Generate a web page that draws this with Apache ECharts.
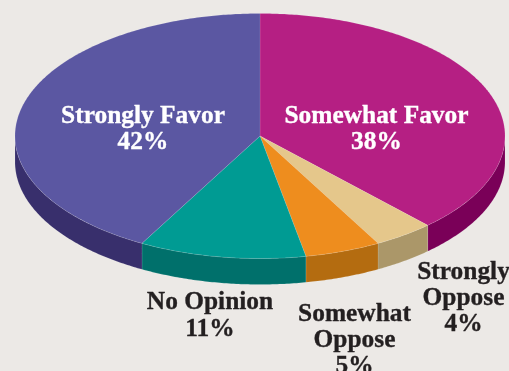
<!DOCTYPE html>
<html>
<head>
<meta charset="utf-8">
<style>html,body{margin:0;padding:0;background:#ece9e6;overflow:hidden}#chart{width:509px;height:371px}</style>
<script src="https://cdn.jsdelivr.net/npm/echarts@6/dist/echarts.min.js"></script>
</head>
<body>
<div id="chart"></div>
<script>
// Survey responses, clockwise from twelve o'clock
const categories = ['Somewhat Favor', 'Strongly Oppose', 'Somewhat Oppose', 'No Opinion', 'Strongly Favor'];
const shares = [38, 4, 5, 11, 42];
const topColors = ['#b51f83', '#e5c78b', '#ee8d1e', '#009b93', '#5b57a2'];
const sideColors = ['#7a0058', '#ab9769', '#b46c10', '#00706b', '#382f6c'];

// Tilted disc geometry
const disc = { cx: 260, cy: 136, rx: 245, ry: 122.5, depth: 26 };

// Label lines and their centres
const labelLayout = [
  { lines: ['Somewhat Favor', '38%'], x: 376.5, y: 129.5, color: '#ffffff' },
  { lines: ['Strongly', 'Oppose', '4%'], x: 463.5, y: 298.5, color: '#231f20' },
  { lines: ['Somewhat', 'Oppose', '5%'], x: 354.5, y: 340.5, color: '#231f20' },
  { lines: ['No Opinion', '11%'], x: 210, y: 316, color: '#231f20' },
  { lines: ['Strongly Favor', '42%'], x: 143, y: 129.5, color: '#ffffff' }
];

const total = shares.reduce((a, b) => a + b, 0);
const pt = (a, dy) => [disc.cx + disc.rx * Math.sin(a), disc.cy - disc.ry * Math.cos(a) + (dy || 0)];

function arc(a0, a1, dy) {
  const out = [];
  const n = Math.max(2, Math.ceil((a1 - a0) / 0.01));
  for (let i = 0; i <= n; i++) out.push(pt(a0 + (a1 - a0) * i / n, dy));
  return out;
}

function angleRange(index) {
  let before = 0;
  for (let i = 0; i < index; i++) before += shares[i];
  return [before / total * 2 * Math.PI, (before + shares[index]) / total * 2 * Math.PI];
}

// Side walls are only visible on the front half of the disc
function renderSide(params) {
  const [a0, a1] = angleRange(params.dataIndex);
  const lo = Math.max(a0, Math.PI / 2);
  const hi = Math.min(a1, 3 * Math.PI / 2);
  if (hi <= lo) return { type: 'group', children: [] };
  const points = arc(lo, hi, 0).concat(arc(lo, hi, disc.depth).reverse());
  return {
    type: 'polygon',
    shape: { points },
    style: { fill: sideColors[params.dataIndex], stroke: 'rgba(255,255,255,0.22)', lineWidth: 0.5 }
  };
}

function renderTop(params) {
  const [a0, a1] = angleRange(params.dataIndex);
  const points = [[disc.cx, disc.cy]].concat(arc(a0, a1, 0));
  return {
    type: 'polygon',
    shape: { points },
    style: { fill: topColors[params.dataIndex], stroke: 'rgba(255,255,255,0.22)', lineWidth: 0.5 }
  };
}

const labelElements = labelLayout.map(l => ({
  type: 'text',
  x: l.x,
  y: l.y,
  z: 100,
  silent: true,
  style: {
    text: l.lines.join('\n'),
    fill: l.color,
    stroke: l.color,
    lineWidth: 0.35,
    font: 'bold 25.4px "Liberation Serif", serif',
    lineHeight: 26.3,
    align: 'center',
    verticalAlign: 'middle'
  }
}));

const chart = echarts.init(document.getElementById('chart'), null, { renderer: 'canvas' });
chart.setOption({
  backgroundColor: '#ece9e6',
  animation: false,
  series: [
    { type: 'custom', coordinateSystem: 'none', silent: true, clip: false, z: 1, renderItem: renderSide, data: categories.map((c, i) => ({ name: c, value: shares[i] })) },
    { type: 'custom', coordinateSystem: 'none', silent: true, clip: false, z: 2, renderItem: renderTop, data: categories.map((c, i) => ({ name: c, value: shares[i] })) }
  ],
  graphic: { elements: labelElements }
});
</script>
</body>
</html>
